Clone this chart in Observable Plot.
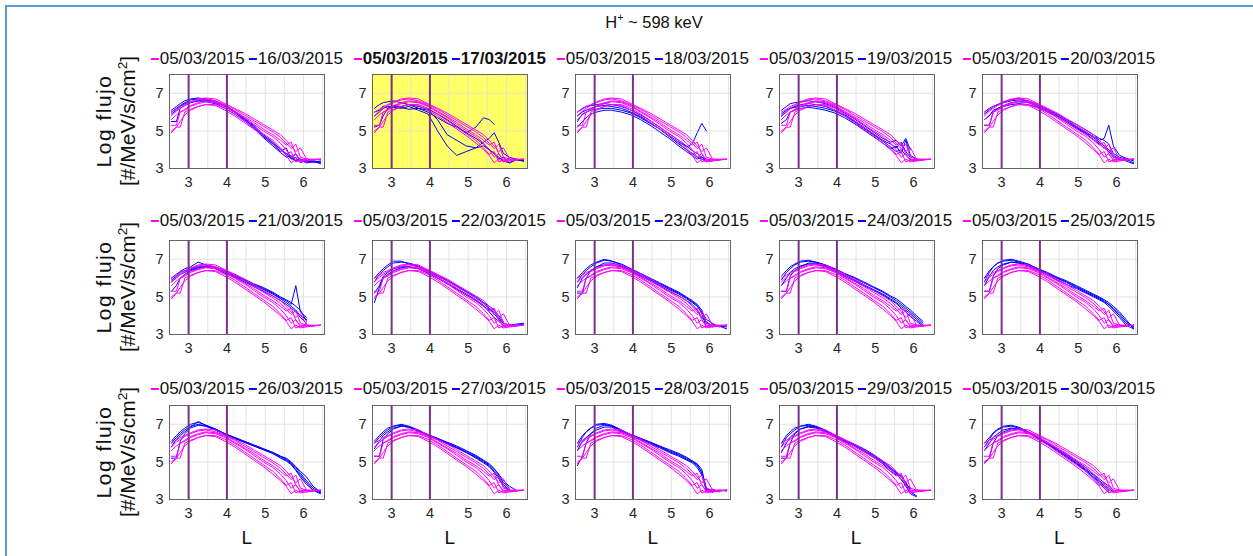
<!DOCTYPE html>
<html><head><meta charset="utf-8">
<script src="https://cdn.jsdelivr.net/npm/d3@7"></script>
<script src="https://cdn.jsdelivr.net/npm/@observablehq/plot@0.6"></script>
<style>
body{margin:0;background:#fff;font-family:"Liberation Sans",Arial,Helvetica,sans-serif;}
#fig{position:relative;width:1253px;height:556px;overflow:hidden;background:#fff;}
#border{position:absolute;left:5px;top:5px;width:1400px;height:700px;border-left:2px solid #5b9bd5;border-top:2px solid #5b9bd5;}
.leg{position:absolute;transform:translate(-50%,-50%);white-space:nowrap;font-size:17px;color:#111;display:flex;align-items:center;}
.leg.bold{font-weight:bold;}
.dash{display:inline-block;width:8px;height:2.5px;margin-right:1px;}
.gap{display:inline-block;width:4px;}
.ylab{position:absolute;transform:translate(-50%,-50%) rotate(-90deg);white-space:nowrap;text-align:center;font-size:21px;line-height:24px;color:#111;}
.ylab .l1{letter-spacing:1.5px;}
.xlab{position:absolute;transform:translate(-50%,-50%);font-size:19px;color:#111;}
#title{position:absolute;left:654px;top:22px;transform:translate(-50%,-50%);font-size:16.5px;color:#111;white-space:nowrap;}
sup{font-size:65%;vertical-align:0.6em;line-height:0;}
.panel{position:absolute;}
</style></head><body><div id="fig"><div id="border"></div></div>
<script>
// ---- data ----
const Lgrid = [2.55,2.68,2.78,2.9,3.05,3.25,3.45,3.7,3.95,4.2,4.45,4.7,4.95,5.2,5.4,5.55,5.68,5.8,5.92,6.08,6.25,6.45];
const refDate = "05/03/2015";
const cmpDates = ["16/03/2015","17/03/2015","18/03/2015","19/03/2015","20/03/2015",
                  "21/03/2015","22/03/2015","23/03/2015","24/03/2015","25/03/2015",
                  "26/03/2015","27/03/2015","28/03/2015","29/03/2015","30/03/2015"];
const highlightPanel = 1;
const xTicks = [3,4,5,6];
const yTicks = [3,5,7];
const xGrid = [3,3.5,4,4.5,5,5.5,6,6.5];
const yGrid = [5,7];
const markerL = [3,4];
const titleText = "H<sup>+</sup> ~ 598 keV";
const yLabel1 = "Log flujo";
const yLabel2 = "[#/MeV/s/cm<sup>2</sup>]";
const xLabel = "L";

const ref0503 = [
 [4.9,5.2,5.2,6.0,6.15,6.3,6.4,6.4,6.2,5.9,5.55,5.2,4.85,4.5,4.1,3.75,3.9,3.35,3.45,3.45,3.45,3.5],
 [5.3,5.3,6.0,6.1,6.3,6.45,6.55,6.5,6.3,6.0,5.7,5.35,5.0,4.7,4.35,4.0,3.6,3.8,3.4,3.5,3.45,null],
 [5.8,6.05,6.2,6.35,6.5,6.65,6.7,6.6,6.4,6.15,5.85,5.55,5.25,4.95,4.65,4.35,4.05,4.3,3.6,3.5,3.5,3.5],
 [6.0,6.15,6.3,6.4,6.55,6.7,6.75,6.7,6.45,6.2,5.95,5.65,5.35,5.05,4.8,4.5,4.2,3.9,4.1,3.5,3.45,null],
 [5.6,5.85,6.0,6.15,6.35,6.5,6.6,6.55,6.35,6.05,5.75,5.45,5.1,4.8,4.5,4.25,4.4,3.75,3.5,3.45,3.45,null],
 [5.0,5.2,5.5,5.85,6.1,6.3,6.4,6.35,6.1,5.8,5.45,5.1,4.75,4.35,4.0,3.7,3.3,3.5,3.35,3.4,3.45,3.5]
];
const b16 = [
 [6.1,6.3,6.45,6.6,6.7,6.75,6.7,6.6,6.35,6.05,5.7,5.3,4.8,4.4,4.0,3.8,3.6,3.75,3.4,3.4,3.35,3.3],
 [5.5,5.5,6.2,6.35,6.5,6.6,6.6,6.5,6.3,6.0,5.65,5.2,4.7,4.3,3.9,4.1,3.5,3.6,3.3,3.45,3.4,3.25],
 [5.9,6.1,6.3,6.45,6.55,6.6,6.55,6.45,6.2,5.9,5.55,5.15,4.65,4.2,3.85,3.6,3.7,3.4,3.5,3.35,3.4,3.35],
 [6.0,6.2,6.35,6.5,6.65,6.7,6.65,6.55,6.3,6.0,5.6,5.25,4.75,4.35,4.05,3.7,3.55,3.4,3.45,3.3,3.35,3.4]
];
const b17 = [
 [5.8,6.0,6.2,6.3,6.25,6.2,6.3,6.1,5.9,5.0,4.2,3.7,3.9,4.1,4.2,4.0,3.8,3.6,3.4,3.3,3.5,3.4],
 [6.0,6.1,6.3,6.2,6.3,6.25,6.15,6.2,6.1,5.6,4.8,4.5,4.2,4.1,4.4,4.6,4.9,4.4,3.8,3.6,3.5,3.4],
 [5.2,5.3,5.8,6.2,6.35,6.3,6.4,6.2,6.0,5.7,5.4,5.2,4.9,5.2,5.7,5.6,5.35,null,null,null,null,null],
 [6.2,6.4,6.5,6.55,6.6,6.5,6.4,6.3,6.15,5.9,5.6,5.25,4.9,4.6,4.3,4.0,3.8,3.5,3.6,3.3,3.45,3.4]
];
const b18 = [
 [5.5,5.9,6.0,6.1,6.15,6.2,6.2,6.1,5.95,5.7,5.4,5.1,4.7,4.3,4.0,3.8,3.6,3.5,3.4,null,null,null],
 [5.8,6.0,6.1,6.2,6.3,6.35,6.3,6.2,6.0,5.75,5.45,5.1,4.75,4.4,4.15,4.3,4.9,5.4,5.0,null,null,null],
 [5.2,5.5,5.7,5.9,6.0,6.1,6.1,6.0,5.85,5.6,5.3,4.95,4.6,4.2,3.9,3.7,3.5,3.6,3.4,3.4,null,null],
 [6.0,6.2,6.3,6.35,6.4,6.45,6.4,6.3,6.1,5.85,5.55,5.2,4.85,4.5,4.2,3.95,3.8,3.6,3.5,null,null,null]
];
const b19 = [
 [5.8,6.0,6.2,6.3,6.4,6.45,6.4,6.3,6.1,5.85,5.55,5.2,4.85,4.5,4.3,4.1,4.4,3.9,3.6,null,null,null],
 [5.4,5.6,6.0,6.1,6.2,6.25,6.2,6.1,5.95,5.7,5.4,5.05,4.7,4.35,4.05,4.2,3.8,4.5,3.7,3.5,null,null],
 [6.1,6.3,6.45,6.5,6.55,6.6,6.55,6.45,6.25,5.95,5.65,5.3,4.95,4.6,4.4,4.5,4.2,4.6,4.0,null,null,null],
 [5.9,6.1,6.2,6.25,6.3,6.35,6.3,6.2,6.05,5.8,5.5,5.15,4.8,4.45,4.15,3.9,4.0,3.7,3.5,3.4,null,null]
];
const b20 = [
 [5.9,6.1,6.3,6.4,6.5,6.6,6.65,6.6,6.4,6.15,5.9,5.6,5.35,5.05,4.8,4.6,4.5,4.3,3.8,3.6,3.5,3.3],
 [5.3,5.3,6.0,6.2,6.35,6.5,6.55,6.5,6.3,6.05,5.8,5.55,5.25,4.95,4.7,4.5,4.6,5.3,4.2,3.7,3.55,3.4],
 [6.0,6.2,6.3,6.4,6.55,6.65,6.75,6.55,6.35,6.1,5.85,5.5,5.2,4.9,4.65,4.4,4.2,4.0,3.7,3.5,3.4,3.25],
 [5.6,5.8,6.1,6.2,6.3,6.4,6.45,6.4,6.25,6.0,5.75,5.45,5.15,4.85,4.55,4.3,4.1,3.9,3.6,3.5,3.45,3.5]
];
const b21 = [
 [5.9,6.1,6.3,6.4,6.5,6.6,6.6,6.5,6.3,6.1,5.85,5.6,5.4,5.15,4.9,4.7,4.5,4.3,4.0,3.8,null,null],
 [5.3,5.6,6.0,6.2,6.4,6.5,6.65,6.55,6.35,6.15,5.9,5.65,5.45,5.2,4.95,4.8,4.6,5.6,4.2,3.9,null,null],
 [6.0,6.2,6.35,6.5,6.6,6.85,6.7,6.6,6.4,6.2,5.95,5.7,5.5,5.25,5.0,4.85,4.7,4.5,4.3,3.7,null,null],
 [5.8,6.0,6.2,6.3,6.45,6.55,6.6,6.5,6.25,6.05,5.8,5.55,5.3,5.05,4.8,4.6,4.4,4.2,3.9,3.6,null,null]
];
const b22 = [
 [5.8,6.2,6.4,6.6,6.8,6.85,6.8,6.65,6.35,6.1,5.85,5.55,5.25,4.95,4.65,4.4,4.1,3.8,3.6,null,null,null],
 [5.2,5.6,6.1,6.3,6.5,6.6,6.6,6.5,6.3,6.0,5.7,5.4,5.1,4.8,4.5,4.3,4.2,3.9,3.6,3.5,3.55,3.6],
 [6.0,6.3,6.5,6.7,6.9,6.9,6.75,6.6,6.4,6.15,5.9,5.6,5.3,5.0,4.7,4.5,4.3,4.0,3.7,null,null,null],
 [4.7,5.5,6.0,6.2,6.4,6.55,6.6,6.5,6.25,6.0,5.75,5.45,5.15,4.85,4.55,4.2,3.9,3.7,3.5,3.45,3.5,3.55]
];
const b23 = [
 [5.8,6.2,6.4,6.6,6.8,6.95,6.9,6.75,6.5,6.25,6.0,5.75,5.5,5.25,5.0,4.8,4.6,4.3,3.6,3.5,3.45,3.4],
 [5.2,5.2,6.0,6.4,6.6,6.8,6.8,6.65,6.4,6.15,5.9,5.65,5.4,5.15,4.9,4.7,4.5,4.2,3.8,3.6,3.4,3.5],
 [6.0,6.3,6.5,6.7,6.85,7.0,6.9,6.7,6.45,6.2,5.95,5.7,5.45,5.2,4.95,4.75,4.55,4.1,3.4,3.5,3.45,3.3],
 [5.5,6.0,6.2,6.4,6.6,6.7,6.7,6.6,6.35,6.1,5.85,5.6,5.3,5.05,4.8,4.6,4.3,3.9,3.7,3.4,null,null]
];
const b24 = [
 [5.9,6.3,6.5,6.7,6.85,6.9,6.85,6.7,6.45,6.2,6.0,5.75,5.5,5.25,5.0,4.8,4.6,4.4,4.2,3.9,3.6,null],
 [5.3,5.3,6.1,6.4,6.6,6.8,6.8,6.65,6.4,6.15,5.9,5.65,5.4,5.15,4.9,4.7,4.5,4.3,4.1,3.8,3.5,null],
 [6.1,6.4,6.6,6.75,6.9,6.95,6.85,6.7,6.5,6.25,6.05,5.8,5.55,5.3,5.05,4.9,4.7,4.5,4.3,4.0,3.7,null],
 [5.6,6.0,6.3,6.5,6.65,6.75,6.75,6.6,6.35,6.1,5.85,5.6,5.35,5.1,4.85,4.65,4.4,4.2,3.95,3.7,3.45,null]
];
const b25 = [
 [5.8,6.3,6.6,6.8,6.95,7.0,6.9,6.75,6.5,6.3,6.05,5.85,5.6,5.35,5.15,5.0,4.85,4.7,4.5,4.2,3.8,3.3],
 [5.3,5.3,6.1,6.5,6.7,6.85,6.8,6.7,6.45,6.2,6.0,5.75,5.5,5.25,5.05,4.9,4.75,4.6,4.35,4.0,3.6,3.4],
 [6.0,6.4,6.6,6.8,6.9,6.95,6.85,6.7,6.5,6.25,6.0,5.8,5.55,5.3,5.1,4.95,4.8,4.6,4.4,4.1,3.7,3.4],
 [5.6,6.1,6.4,6.6,6.75,6.85,6.8,6.65,6.4,6.15,5.9,5.65,5.45,5.2,5.0,4.85,4.7,4.5,4.25,3.9,3.5,3.3]
];
const b26 = [
 [6.1,6.4,6.6,6.8,7.0,7.1,6.95,6.75,6.5,6.3,6.1,5.9,5.7,5.5,5.3,5.15,4.95,4.7,4.4,4.0,3.6,3.4],
 [5.2,5.2,6.1,6.5,6.8,6.95,6.9,6.7,6.45,6.25,6.05,5.85,5.65,5.45,5.25,5.1,4.9,4.6,4.3,3.9,3.5,3.35],
 [6.0,6.3,6.5,6.7,6.9,7.0,6.9,6.7,6.45,6.25,6.05,5.85,5.65,5.45,5.2,5.05,4.85,4.55,4.2,3.8,3.5,3.3],
 [5.8,6.2,6.4,6.6,6.85,7.15,6.95,6.75,6.5,6.3,6.1,5.9,5.7,5.5,5.3,5.2,5.0,4.75,4.5,4.2,3.7,3.4]
];
const b27 = [
 [6.0,6.3,6.5,6.7,6.9,7.0,6.9,6.7,6.45,6.25,6.05,5.85,5.6,5.35,5.1,4.9,4.65,4.3,3.9,3.6,null,null],
 [5.3,5.3,6.2,6.5,6.75,6.9,6.85,6.65,6.4,6.2,6.0,5.75,5.5,5.25,5.0,4.8,4.5,4.2,3.8,3.5,null,null],
 [6.1,6.4,6.6,6.8,6.9,6.95,6.85,6.65,6.45,6.25,6.0,5.8,5.55,5.3,5.05,4.85,4.6,4.35,4.0,3.7,3.5,null],
 [5.7,6.1,6.4,6.6,6.8,6.9,6.85,6.65,6.4,6.2,5.95,5.75,5.5,5.2,4.95,4.75,4.45,4.1,3.7,3.45,null,null]
];
const b28 = [
 [5.8,6.3,6.6,6.8,7.0,7.05,6.95,6.7,6.45,6.25,6.05,5.85,5.65,5.45,5.25,5.05,4.9,4.6,3.5,3.5,3.45,3.5],
 [4.8,5.3,6.0,6.5,6.8,6.95,6.9,6.7,6.4,6.2,6.0,5.8,5.55,5.35,5.15,5.0,4.8,4.5,3.6,3.4,3.5,3.45],
 [6.0,6.4,6.6,6.8,6.95,7.0,6.9,6.65,6.45,6.25,6.05,5.8,5.6,5.4,5.2,5.05,4.85,4.4,3.45,3.55,3.4,null],
 [5.6,6.1,6.3,6.5,6.7,6.85,6.85,6.6,6.4,6.15,5.95,5.75,5.5,5.3,5.1,4.95,4.7,4.3,3.5,3.4,null,null]
];
const b29 = [
 [5.8,6.3,6.5,6.7,6.9,6.95,6.85,6.65,6.4,6.15,5.95,5.7,5.4,5.05,4.7,4.45,4.2,3.9,3.5,null,null,null],
 [5.2,5.2,6.0,6.5,6.75,6.9,6.85,6.65,6.35,6.1,5.85,5.6,5.3,4.95,4.6,4.35,4.1,3.7,3.3,3.15,null,null],
 [6.0,6.4,6.6,6.8,6.9,7.0,6.9,6.7,6.4,6.15,5.9,5.65,5.35,5.0,4.65,4.4,4.05,3.8,3.6,null,null,null],
 [5.5,6.0,6.3,6.55,6.75,6.85,6.8,6.6,6.35,6.1,5.85,5.55,5.25,4.9,4.5,4.3,4.3,3.9,3.4,3.2,null,null]
];
const b30 = [
 [5.8,6.2,6.5,6.7,6.85,6.9,6.8,6.6,6.3,6.0,5.7,5.35,5.0,4.6,4.3,4.0,3.8,3.6,3.4,null,null,null],
 [5.0,5.2,6.0,6.4,6.6,6.75,6.75,6.55,6.25,5.95,5.65,5.3,4.95,4.55,4.2,3.95,3.7,3.5,null,null,null,null],
 [6.0,6.3,6.55,6.75,6.9,6.95,6.85,6.6,6.3,6.0,5.7,5.4,5.05,4.7,4.35,4.1,3.9,3.7,3.5,null,null,null],
 [5.6,6.0,6.3,6.5,6.7,6.8,6.75,6.55,6.25,5.95,5.6,5.25,4.9,4.5,4.15,3.85,3.6,3.4,null,null,null,null]
];
const blueSets = [b16,b17,b18,b19,b20,b21,b22,b23,b24,b25,b26,b27,b28,b29,b30];

// ---- layout ----
const colX = [169.3,372.3,575.3,778.5,981.7];
const rowY = [73.9,240,405];
const legY = [58.8,221,389];
const PW = 155, PH = 94;
const ML = 32, MR = 8, MT = 4, MB = 30;
const FONT = '"Liberation Sans", Arial, Helvetica, sans-serif';

function toRows(curves, tag){
  const out = [];
  curves.forEach((c,i)=>c.forEach((v,j)=>{ if(v!=null) out.push({L:Lgrid[j], v, id:tag+i}); }));
  return out;
}
const magRows = toRows(ref0503, "m");
const fig = document.getElementById("fig");

fig.insertAdjacentHTML("beforeend", `<div id="title">${titleText}</div>`);

cmpDates.forEach((date, k)=>{
  const r = Math.floor(k/5), c = k%5;
  const hl = k===highlightPanel;
  const svg = Plot.plot({
    width: PW+ML+MR, height: PH+MT+MB,
    marginLeft: ML, marginRight: MR, marginTop: MT, marginBottom: MB,
    x: {domain:[2.5,6.55]}, y: {domain:[3,8]},
    style: {fontFamily: FONT, fontSize: "14.5px", color: "#262626", background: "transparent", overflow: "visible"},
    marks: [
      Plot.frame({fill: hl ? "#ffff66" : "#ffffff", stroke: null}),
      Plot.ruleX(xGrid, {stroke: "#dddddd", strokeWidth: 0.8}),
      Plot.ruleY(yGrid, {stroke: "#dddddd", strokeWidth: 0.8}),
      Plot.line(toRows(blueSets[k], "b"), {x:"L", y:"v", z:"id", stroke:"#0000ff", strokeWidth:1}),
      Plot.line(magRows, {x:"L", y:"v", z:"id", stroke:"#ff00ff", strokeWidth:1}),
      Plot.ruleX(markerL, {stroke:"#7e2f8e", strokeWidth:2}),
      Plot.frame({stroke:"#555", strokeWidth:0.9}),
      Plot.axisX({ticks: xTicks, tickFormat: d => String(d), tickSize: 0, tickPadding: 8, label: null, fontSize: 14.5}),
      Plot.axisY({ticks: yTicks, tickFormat: d => String(d), tickSize: 0, tickPadding: 6, label: null, fontSize: 14.5})
    ]
  });
  svg.classList.add("panel");
  svg.style.left = (colX[c]-ML)+"px";
  svg.style.top = (rowY[r]-MT)+"px";
  fig.appendChild(svg);

  const cx = colX[c] + PW/2;
  fig.insertAdjacentHTML("beforeend",
    `<div class="leg${hl?' bold':''}" style="left:${cx}px;top:${legY[r]}px">` +
    `<span class="dash" style="background:#ff00ff"></span>${refDate}<span class="gap"></span>` +
    `<span class="dash" style="background:#0000ff"></span>${date}</div>`);
  if (c===0){
    fig.insertAdjacentHTML("beforeend",
      `<div class="ylab" style="left:116px;top:${rowY[r]+PH/2}px"><span class="l1">${yLabel1}</span><br>${yLabel2}</div>`);
  }
  if (r===2){
    fig.insertAdjacentHTML("beforeend",
      `<div class="xlab" style="left:${cx}px;top:538px">${xLabel}</div>`);
  }
});
</script></body></html>
